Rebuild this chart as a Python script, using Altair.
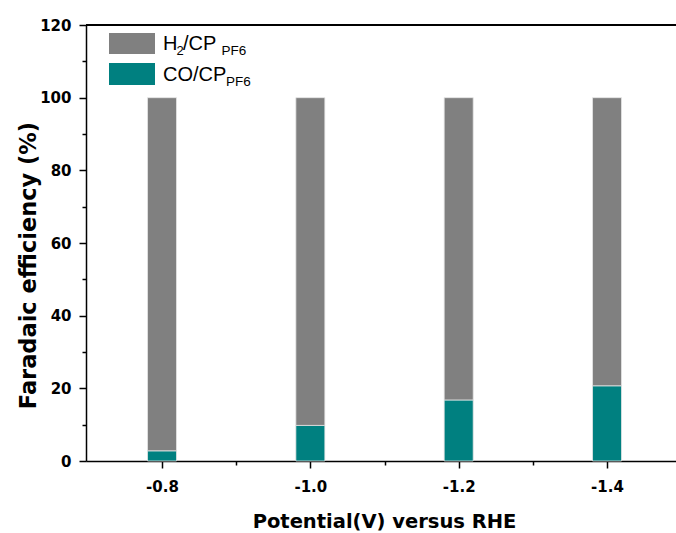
import altair as alt
import pandas as pd

# Faradaic efficiency of H2 and CO at each applied potential
potentials = [-0.8, -1.0, -1.2, -1.4]
fe_co = [2.8, 9.8, 16.8, 20.7]
fe_h2 = [97.2, 90.2, 83.2, 79.3]
species = ["H2", "CO"]
colors = ["#808080", "#008080"]
x_major = [-0.8, -1.0, -1.2, -1.4]
x_minor = [-0.9, -1.1, -1.3]
y_major = [0, 20, 40, 60, 80, 100, 120]
y_minor = [10, 30, 50, 70, 90, 110]

rows = []
for p, co, h2 in zip(potentials, fe_co, fe_h2):
    rows.append({"potential": p, "species": "CO", "fe": co, "order": 0})
    rows.append({"potential": p, "species": "H2", "fe": h2, "order": 1})
df = pd.DataFrame(rows)

FONT = "Liberation Sans"
BOLD = "DejaVu Sans"
W, H = 590, 436

x_scale = alt.Scale(domain=[-1.493, -0.6975], reverse=True, nice=False, zero=False, padding=0)
y_scale = alt.Scale(domain=[0, 120], nice=False)

base = alt.Chart(df)

bars = base.mark_bar(size=29, stroke="#e4e4e4", strokeWidth=0.8).encode(
    x=alt.X("potential:Q", scale=x_scale,
            axis=alt.Axis(values=x_major, labelExpr="'-' + format(abs(datum.value), '.1f')",
                          tickSize=7, tickWidth=1.5,
                          domainWidth=1.5, domainColor="black", tickColor="black",
                          labelFont=BOLD, labelFontSize=15, labelFontWeight="bold",
                          labelColor="black", labelBaseline="alphabetic", labelPadding=23,
                          grid=False, title="Potential(V) versus RHE",
                          titleFont=BOLD, titleFontSize=19.5, titleFontWeight="bold",
                          titleColor="black", titleBaseline="alphabetic", titleY=66.5,
                          titleX=298)),
    y=alt.Y("fe:Q", stack="zero", scale=y_scale,
            axis=alt.Axis(values=y_major, format="d", tickSize=7, tickWidth=1.5,
                          domainWidth=1.5, domainColor="black", tickColor="black",
                          labelFont=BOLD, labelFontSize=15, labelFontWeight="bold",
                          labelColor="black", labelPadding=8, grid=False,
                          title="Faradaic efficiency (%)", titleFont=BOLD,
                          titleFontSize=22.5, titleFontWeight="bold", titleColor="black",
                          titleBaseline="alphabetic", titleX=-51, titleY=240)),
    color=alt.Color("species:N", scale=alt.Scale(domain=species, range=colors), legend=None),
    order=alt.Order("order:Q"),
)

# minor ticks on both axes
minor = base.mark_bar(opacity=0).encode(
    x=alt.X("potential:Q", scale=x_scale,
            axis=alt.Axis(values=x_minor, orient="bottom", tickSize=4, tickWidth=1.5,
                          tickColor="black", labels=False, domain=False, grid=False,
                          title=None)),
    y=alt.Y("fe:Q", stack="zero", scale=y_scale,
            axis=alt.Axis(values=y_minor, orient="left", tickSize=4, tickWidth=1.5,
                          tickColor="black", labels=False, domain=False, grid=False,
                          title=None)),
    order=alt.Order("order:Q"),
)

# top frame line
top_line = alt.Chart(pd.DataFrame({"a": [0]})).mark_rule(color="black", strokeWidth=2).encode(
    x=alt.value(0), x2=alt.value(W), y=alt.value(0)
)

one = pd.DataFrame({"a": [0]})


def swatch(color, y0, y1):
    return alt.Chart(one).mark_rect(color=color).encode(
        x=alt.value(23), x2=alt.value(69), y=alt.value(y0), y2=alt.value(y1)
    )


def label(text, x, y, size):
    return alt.Chart(one).mark_text(
        text=text, font=FONT, fontSize=size, align="left", baseline="alphabetic", color="black"
    ).encode(x=alt.value(x), y=alt.value(y))


legend = [
    swatch(colors[0], 8, 29),
    swatch(colors[1], 38, 60),
    label("H", 77, 24.7, 20),
    label("2", 90.5, 29.7, 13),
    label("/CP", 97, 24.7, 20),
    label("PF6", 135.5, 30.3, 13.5),
    label("CO/CP", 77, 56.3, 20),
    label("PF6", 140, 61, 13.5),
]

chart = alt.layer(bars, minor, top_line, *legend).resolve_axis(
    x="independent", y="independent"
).properties(
    width=W, height=H,
    autosize=alt.AutoSizeParams(type="none"),
    padding={"left": 86, "top": 25, "right": 0, "bottom": 72},
).configure_view(stroke=None).configure(background="white")

chart.save("out.html", embed_options={"renderer": "svg", "actions": False})
